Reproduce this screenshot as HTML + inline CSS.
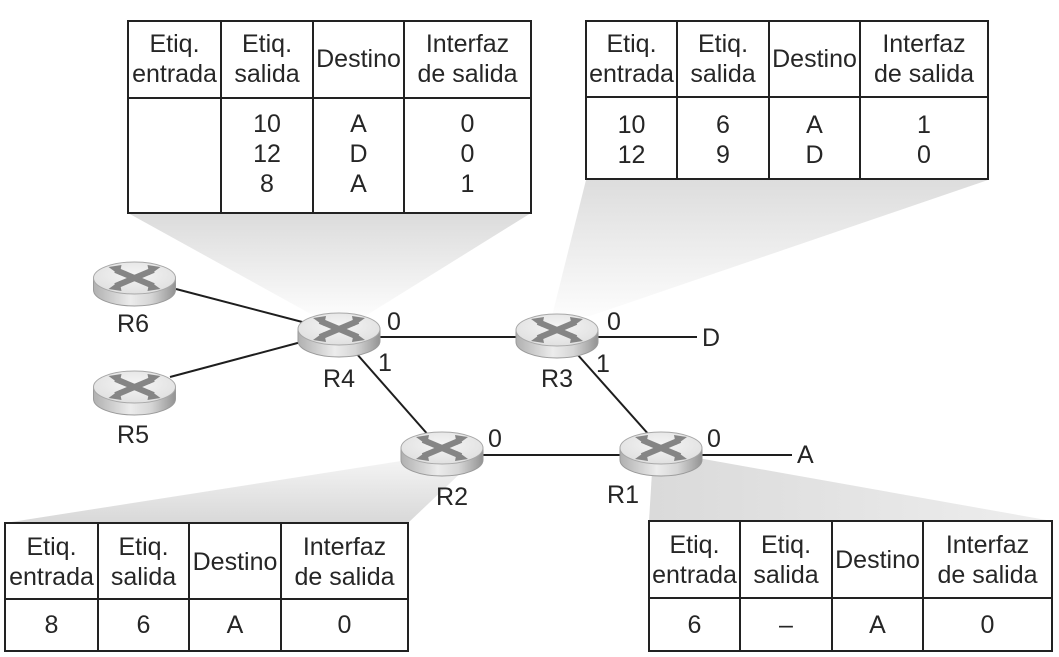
<!DOCTYPE html>
<html><head><meta charset="utf-8"><style>
html,body{margin:0;padding:0;background:#fff;}
svg{display:block;}
text{font-family:"Liberation Sans",Arial,sans-serif;fill:#262626;}
.t{font-size:25px;text-anchor:middle;}
.l{font-size:25px;}
</style></head><body>
<svg width="1059" height="657" viewBox="0 0 1059 657" xmlns="http://www.w3.org/2000/svg">
<defs>
<linearGradient id="g1" x1="0" y1="213" x2="0" y2="318" gradientUnits="userSpaceOnUse">
<stop offset="0" stop-color="#dbdbdb"/><stop offset="1" stop-color="#fdfdfd"/></linearGradient>
<linearGradient id="g2" x1="0" y1="180" x2="0" y2="318" gradientUnits="userSpaceOnUse">
<stop offset="0" stop-color="#dddddd"/><stop offset="1" stop-color="#fdfdfd"/></linearGradient>
<linearGradient id="g3" x1="0" y1="455" x2="0" y2="523" gradientUnits="userSpaceOnUse">
<stop offset="0" stop-color="#f6f6f6"/><stop offset="1" stop-color="#d8d8d8"/></linearGradient>
<linearGradient id="g4" x1="650" y1="0" x2="1052" y2="0" gradientUnits="userSpaceOnUse">
<stop offset="0" stop-color="#dadada"/><stop offset="1" stop-color="#eeeeee"/></linearGradient>
<linearGradient id="side" x1="0" y1="0" x2="1" y2="0">
<stop offset="0" stop-color="#b0b0b0"/><stop offset="0.45" stop-color="#ececec"/><stop offset="0.7" stop-color="#d6d6d6"/><stop offset="1" stop-color="#939393"/></linearGradient>
<radialGradient id="top" cx="0.5" cy="0.4" r="0.6">
<stop offset="0" stop-color="#f5f5f5"/><stop offset="1" stop-color="#e0e0e0"/></radialGradient>
<g id="rt">
<path d="M-41,0 L-41,12 A41 16 0 0 0 41,12 L41,0 Z" fill="url(#side)" stroke="#9a9a9a" stroke-width="1"/>
<ellipse cx="0" cy="0" rx="41" ry="16" fill="url(#top)" stroke="#a8a8a8" stroke-width="1"/>
<g stroke="#858585" stroke-width="6" stroke-linecap="butt">
<line x1="-19" y1="-8" x2="19" y2="8"/><line x1="19" y1="-8" x2="-19" y2="8"/>
</g>
<g fill="#858585">
<polygon points="-26,-11 -13,-13 -15,-3"/>
<polygon points="26,-11 13,-13 15,-3"/>
<polygon points="-26,11 -13,13 -15,3"/>
<polygon points="26,11 13,13 15,3"/>
</g>
</g>
</defs>

<!-- shadow cones -->
<polygon points="128,213 531,213 362,318 318,318" fill="url(#g1)"/>
<polygon points="586,180 988,180 590,316 552,316" fill="url(#g2)"/>
<polygon points="420,458 468,466 408,523 5,523" fill="url(#g3)"/>
<polygon points="698,458 1052,521 649,521 652,472" fill="url(#g4)"/>

<!-- connectors -->
<g stroke="#1e1e1e" stroke-width="2" fill="none">
<line x1="176" y1="289" x2="310" y2="324"/>
<line x1="170" y1="377" x2="305" y2="341"/>
<line x1="375" y1="337" x2="520" y2="337"/>
<line x1="595" y1="337" x2="697" y2="337"/>
<line x1="356" y1="353" x2="430" y2="437"/>
<line x1="577" y1="354" x2="650" y2="436"/>
<line x1="478" y1="455" x2="625" y2="455"/>
<line x1="698" y1="455" x2="792" y2="455"/>
</g>

<!-- routers -->
<use href="#rt" x="134.5" y="278"/>
<use href="#rt" x="134.5" y="387"/>
<use href="#rt" x="339" y="329"/>
<use href="#rt" x="557" y="330"/>
<use href="#rt" x="442" y="448"/>
<use href="#rt" x="661" y="448"/>

<!-- router labels -->
<g class="l" text-anchor="middle">
<text x="133" y="332">R6</text>
<text x="133" y="443">R5</text>
<text x="339" y="387">R4</text>
<text x="557" y="387">R3</text>
<text x="452" y="505">R2</text>
<text x="623" y="503">R1</text>
<text x="394" y="330">0</text>
<text x="385" y="371">1</text>
<text x="614" y="330">0</text>
<text x="603" y="372">1</text>
<text x="495" y="447">0</text>
<text x="714" y="447">0</text>
</g>
<text class="l" x="702" y="346">D</text>
<text class="l" x="797" y="463">A</text>

<!-- tables -->
<g stroke="#222" stroke-width="2" fill="#fff">
<rect x="128" y="21" width="403" height="192"/>
<rect x="586" y="21" width="402" height="158"/>
<rect x="5" y="523" width="403" height="128"/>
<rect x="649" y="521" width="403" height="130"/>
</g>
<g stroke="#222" stroke-width="2">
<line x1="128" y1="98" x2="531" y2="98"/>
<line x1="221" y1="21" x2="221" y2="213"/><line x1="313" y1="21" x2="313" y2="213"/><line x1="404" y1="21" x2="404" y2="213"/>
<line x1="586" y1="97" x2="988" y2="97"/>
<line x1="677" y1="21" x2="677" y2="179"/><line x1="769" y1="21" x2="769" y2="179"/><line x1="860" y1="21" x2="860" y2="179"/>
<line x1="5" y1="599" x2="408" y2="599"/>
<line x1="98" y1="523" x2="98" y2="651"/><line x1="189" y1="523" x2="189" y2="651"/><line x1="281" y1="523" x2="281" y2="651"/>
<line x1="649" y1="598" x2="1052" y2="598"/>
<line x1="740" y1="521" x2="740" y2="651"/><line x1="832" y1="521" x2="832" y2="651"/><line x1="923" y1="521" x2="923" y2="651"/>
</g>

<g class="t">
<!-- T1 -->
<text x="174.5" y="52">Etiq.</text><text x="174.5" y="82">entrada</text>
<text x="267" y="52">Etiq.</text><text x="267" y="82">salida</text>
<text x="358.5" y="67">Destino</text>
<text x="467.5" y="52">Interfaz</text><text x="467.5" y="82">de salida</text>
<text x="267" y="132">10</text><text x="267" y="162">12</text><text x="267" y="192">8</text>
<text x="358.5" y="132">A</text><text x="358.5" y="162">D</text><text x="358.5" y="192">A</text>
<text x="467.5" y="132">0</text><text x="467.5" y="162">0</text><text x="467.5" y="192">1</text>
<!-- T2 -->
<text x="631.5" y="52">Etiq.</text><text x="631.5" y="82">entrada</text>
<text x="723" y="52">Etiq.</text><text x="723" y="82">salida</text>
<text x="814.5" y="67">Destino</text>
<text x="924" y="52">Interfaz</text><text x="924" y="82">de salida</text>
<text x="631.5" y="133">10</text><text x="631.5" y="163">12</text>
<text x="723" y="133">6</text><text x="723" y="163">9</text>
<text x="814.5" y="133">A</text><text x="814.5" y="163">D</text>
<text x="924" y="133">1</text><text x="924" y="163">0</text>
<!-- T3 -->
<text x="51.5" y="555">Etiq.</text><text x="51.5" y="585">entrada</text>
<text x="143.5" y="555">Etiq.</text><text x="143.5" y="585">salida</text>
<text x="235" y="570">Destino</text>
<text x="344.5" y="555">Interfaz</text><text x="344.5" y="585">de salida</text>
<text x="51.5" y="633">8</text><text x="143.5" y="633">6</text><text x="235" y="633">A</text><text x="344.5" y="633">0</text>
<!-- T4 -->
<text x="694.5" y="553">Etiq.</text><text x="694.5" y="583">entrada</text>
<text x="786" y="553">Etiq.</text><text x="786" y="583">salida</text>
<text x="877.5" y="568">Destino</text>
<text x="987.5" y="553">Interfaz</text><text x="987.5" y="583">de salida</text>
<text x="694.5" y="633">6</text><text x="786" y="633">–</text><text x="877.5" y="633">A</text><text x="987.5" y="633">0</text>
</g>
</svg>
</body></html>
